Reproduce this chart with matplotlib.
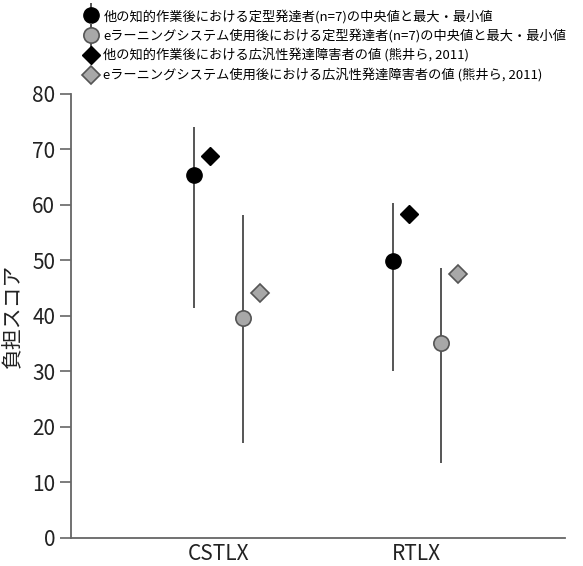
import numpy as np
import matplotlib
matplotlib.use('Agg')
import matplotlib.pyplot as plt
from matplotlib.legend_handler import HandlerErrorbar

plt.rcParams['font.family'] = ['Noto Sans CJK JP', 'DejaVu Sans']

# --- データ ---
categories = ['CSTLX', 'RTLX']
td_task_med = [65.4, 49.8]
td_task_max = [74.1, 60.3]
td_task_min = [41.5, 30.1]
td_elearn_med = [39.6, 35.1]
td_elearn_max = [58.1, 48.6]
td_elearn_min = [17.0, 13.4]
asd_task = [68.8, 58.4]
asd_elearn = [44.2, 47.5]

labels = [
    '他の知的作業後における定型発達者(n=7)の中央値と最大・最小値',
    'eラーニングシステム使用後における定型発達者(n=7)の中央値と最大・最小値',
    '他の知的作業後における広汎性発達障害者の値 (熊井ら, 2011)',
    'eラーニングシステム使用後における広汎性発達障害者の値 (熊井ら, 2011)',
]

x = np.arange(len(categories))
med1, lo1, hi1 = np.array(td_task_med), np.array(td_task_min), np.array(td_task_max)
med2, lo2, hi2 = np.array(td_elearn_med), np.array(td_elearn_min), np.array(td_elearn_max)

fig = plt.figure(figsize=(5.83, 5.66), dpi=100)
ax = fig.add_axes([0.122, 0.05, 0.847, 0.784])

line_c = '#555555'
gray = '#a8a8a8'
h1 = ax.errorbar(x - 0.12, med1, yerr=[med1 - lo1, hi1 - med1], fmt='o',
                 color='black', ecolor=line_c, elinewidth=1.4, capsize=0,
                 ms=11, mec='black', label=labels[0])
h2 = ax.errorbar(x + 0.125, med2, yerr=[med2 - lo2, hi2 - med2], fmt='o',
                 color=gray, ecolor=line_c, elinewidth=1.4, capsize=0,
                 ms=11, mec='#555555', mew=1.2, label=labels[1])
h3, = ax.plot(x - 0.04, asd_task, 'D', color='black', ms=9.5, label=labels[2])
h4, = ax.plot(x + 0.21, asd_elearn, 'D', color=gray, mec='#555555',
              mew=1.2, ms=9.5, label=labels[3])

ax.set_xlim(-0.742, 1.748)
ax.set_ylim(0, 80)
ax.set_yticks(np.arange(0, 81, 10))
ax.set_xticks(x)
ax.set_xticklabels(categories, color='#222222')
ax.tick_params(axis='x', length=0, labelsize=15, pad=4)
ax.tick_params(axis='y', length=8, width=1.2, color='#666666', labelsize=15,
               labelcolor='#222222')
for s in ['top', 'right']:
    ax.spines[s].set_visible(False)
for s in ['left', 'bottom']:
    ax.spines[s].set_color('#666666')
    ax.spines[s].set_linewidth(1.3)
ax.set_ylabel('負担スコア', fontsize=15, labelpad=6, color='#222222')

eb = HandlerErrorbar(yerr_size=0.95)
fig.legend(handles=[h1, h2, h3, h4], labels=labels, loc='upper left',
           bbox_to_anchor=(0.132, 0.998), frameon=False, fontsize=9.5,
           handlelength=1.0, handletextpad=0.4, labelspacing=0.45,
           borderaxespad=0.2, handler_map={h1: eb, h2: eb})

fig.savefig('out.png', dpi=100)
